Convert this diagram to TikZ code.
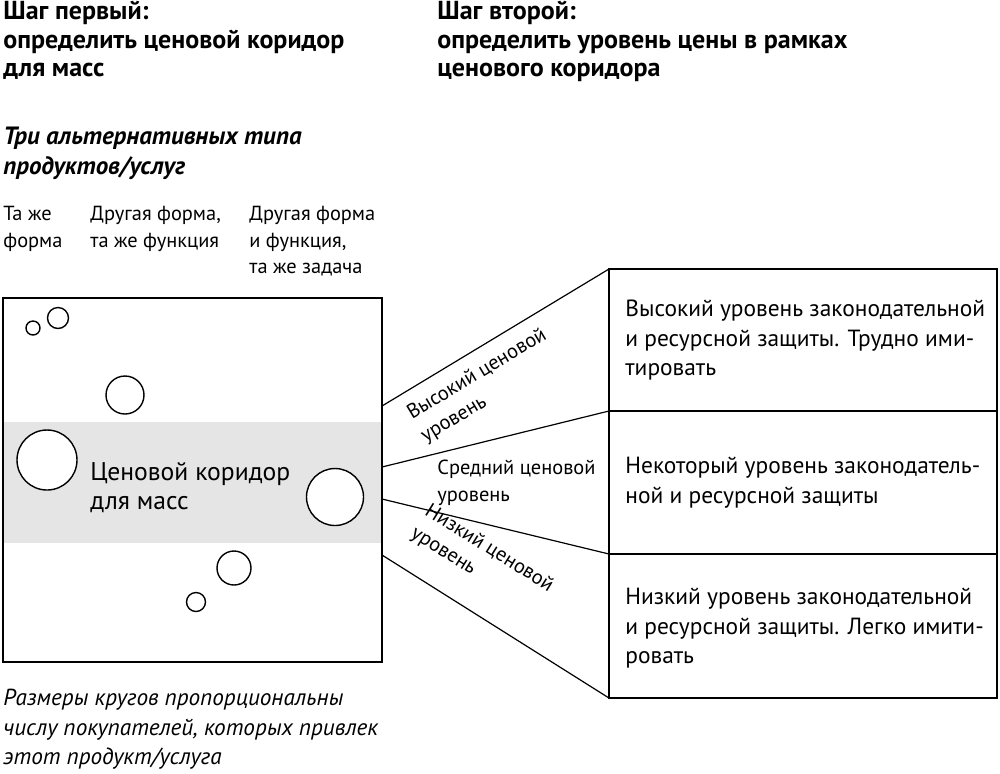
\documentclass[tikz,border=0pt]{standalone}
\usepackage{fontspec}
\setmainfont{PT Sans}
\begin{document}
\begin{tikzpicture}[x=0.5pt,y=-0.5pt,
  txt/.style={inner sep=0pt,anchor=north west,align=left,font=\fontsize{11.7}{14.6}\selectfont},
  head/.style={inner sep=0pt,anchor=north west,align=left,font=\fontsize{13}{14.3}\selectfont\bfseries},
  sml/.style={inner sep=0pt,anchor=north west,align=left,font=\fontsize{10.2}{13.2}\selectfont},
  circ/.style={draw,circle,inner sep=0pt,line width=0.7pt},
  ln/.style={line width=0.6pt}]
\useasboundingbox (0,0) rectangle (1000,773);
\fill[gray!20] (3,422) rectangle (382,543);
\draw[ln] (3,298) rectangle (382,662);
\node[circ,minimum size=7pt] (c1) at (33,328) {};
\node[circ,minimum size=10.5pt] (c2) at (58,318) {};
\node[circ,minimum size=19pt] (c3) at (125,395) {};
\node[circ,fill=white,minimum size=30pt] (c4) at (47,460) {};
\node[circ,fill=white,minimum size=28.5pt] (c5) at (335,497) {};
\node[circ,minimum size=17pt] (c6) at (234,568) {};
\node[circ,minimum size=9.5pt] (c7) at (196,602) {};
\node[inner sep=0pt,anchor=north west,align=left,font=\fontsize{12.8}{14.5}\selectfont] (corr) at (90,462) {Ценовой коридор\\для масс};
\draw[ln] (609,269) rectangle (997,698);
\draw[ln] (609,411) -- (997,411);
\draw[ln] (609,554) -- (997,554);
\coordinate (a1) at (382,406); \coordinate (b1) at (609,269);
\coordinate (a2) at (382,467); \coordinate (b2) at (609,411);
\coordinate (a3) at (382,499); \coordinate (b3) at (609,554);
\coordinate (a4) at (382,555); \coordinate (b4) at (609,698);
\draw[ln] (a1)--(b1); \draw[ln] (a2)--(b2); \draw[ln] (a3)--(b3); \draw[ln] (a4)--(b4);
\node[head] (h1) at (3,1) {Шаг первый:\\определить ценовой коридор\\для масс};
\node[head] (h2) at (437,1) {Шаг второй:\\определить уровень цены в рамках\\ценового коридора};
\node[head,font=\fontsize{12.5}{14.7}\selectfont\bfseries\itshape] (alt) at (3,127) {Три альтернативных типа\\продуктов/услуг};
\node[sml] (k1) at (3,206) {Та же\\форма};
\node[sml] (k2) at (90,206) {Другая форма,\\та же функция};
\node[sml] (k3) at (249,206) {Другая форма\\и функция,\\та же задача};
\node[txt,font=\fontsize{11.6}{14.6}\selectfont\itshape] (note) at (3,689) {Размеры кругов пропорциональны\\числу покупателей, которых привлек\\этот продукт/услуга};
\node[txt] (r1) at (625,300) {Высокий уровень законодательной\\и ресурсной защиты. Трудно  ими-\\тировать};
\node[txt] (r2) at (625,457) {Некоторый уровень законодатель-\\ной и ресурсной защиты};
\node[txt] (r3) at (625,588) {Низкий уровень законодательной\\и ресурсной защиты. Легко имити-\\ровать};
\node[sml,anchor=center,rotate=31] (l1) at (484,386) {Высокий ценовой\\уровень};
\node[sml] (l2) at (437,460) {Средний ценовой\\уровень};
\node[sml,anchor=center,rotate=-32] (l3) at (482,560) {Низкий ценовой\\уровень};
\end{tikzpicture}
\end{document}
